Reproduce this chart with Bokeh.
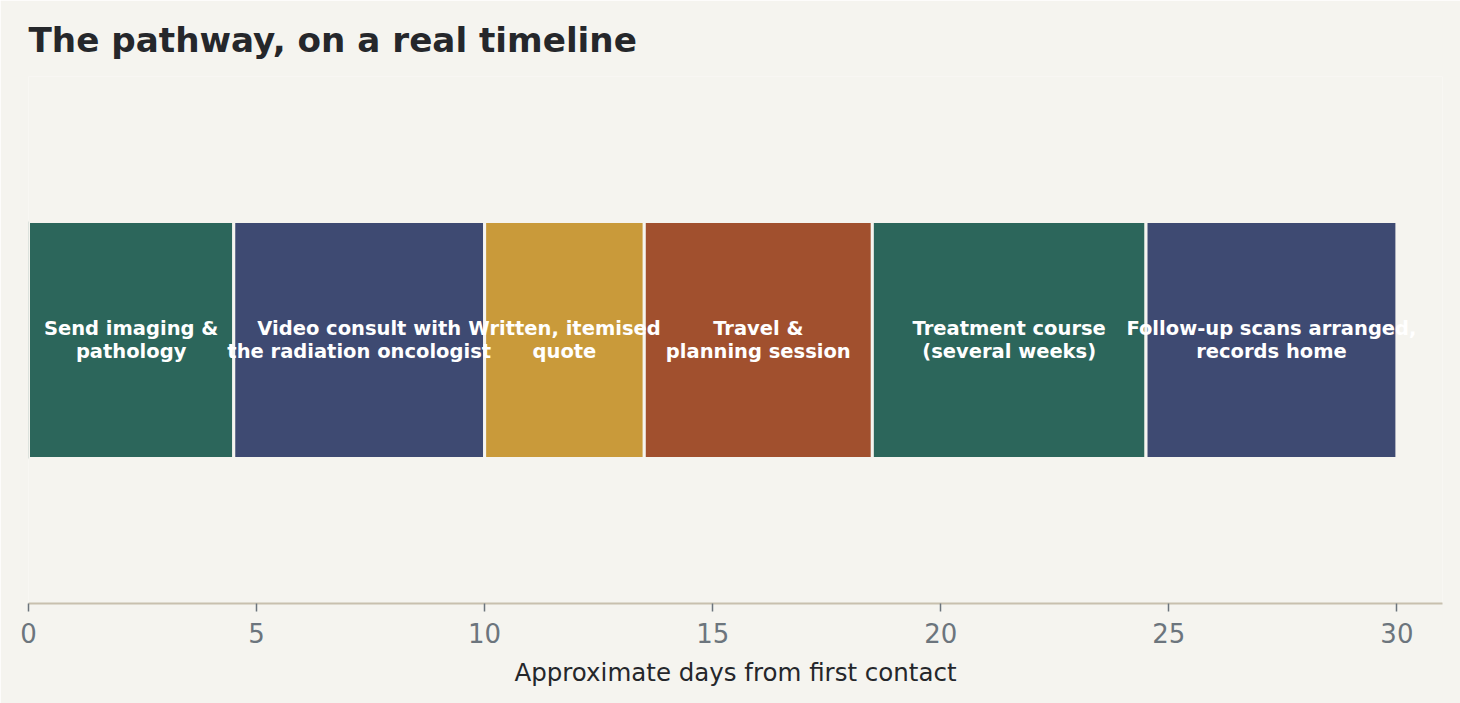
from bokeh.plotting import figure
from bokeh.models import Range1d, FixedTicker, ColumnDataSource
from bokeh.core.properties import value
from bokeh.embed import file_html
from bokeh.resources import INLINE

# ---- data ----
title_text = "The pathway, on a real timeline"
stages = [
    "Send imaging &\npathology",
    "Video consult with\nthe radiation oncologist",
    "Written, itemised\nquote",
    "Travel &\nplanning session",
    "Treatment course\n(several weeks)",
    "Follow-up scans arranged,\nrecords home",
]
start_days = [0, 4.5, 10, 13.5, 18.5, 24.5]
durations = [4.5, 5.5, 3.5, 5.0, 6.0, 5.5]
stage_colors = ["#2c665b", "#3e4a72", "#c99a3a", "#a1502e", "#2c665b", "#3e4a72"]
tick_values = [0, 5, 10, 15, 20, 25, 30]

ends = [s + d for s, d in zip(start_days, durations)]
mids = [s + d / 2 for s, d in zip(start_days, durations)]
src = ColumnDataSource(dict(left=start_days, right=ends, mid=mids, y=[0] * len(stages),
                            label=stages, color=stage_colors))

BG = "#f5f4ef"
FONT = "DejaVu Sans"

p = figure(width=1460, height=703, output_backend="svg", toolbar_location=None,
           x_range=Range1d(0, 31), y_range=Range1d(-0.5, 0.5),
           min_border_left=28, min_border_right=18, min_border_top=76, min_border_bottom=100,
           background_fill_color=BG, border_fill_color=BG, outline_line_color=None,
           title=title_text)

p.title.text_font = FONT
p.title.text_font_size = "34.2px"
p.title.text_font_style = "bold"
p.title.text_color = "#25272b"
p.title.align = "left"
p.title.vertical_align = "top"
p.title.standoff = 29

p.hbar(y="y", left="left", right="right", height=0.45, source=src,
       fill_color="color", line_color=BG, line_width=3)

p.text(x="mid", y="y", text="label", source=src, text_align="center", text_baseline="middle",
       text_color="white", text_font=value(FONT), text_font_style="bold",
       text_font_size="19.5px", text_line_height=1.0)

p.yaxis.visible = False
p.xgrid.visible = False
p.ygrid.visible = False

ax = p.xaxis[0]
ax.ticker = FixedTicker(ticks=tick_values)
ax.axis_label = "Approximate days from first contact"
ax.axis_label_text_font = FONT
ax.axis_label_text_font_size = "24.5px"
ax.axis_label_text_font_style = "normal"
ax.axis_label_text_color = "#25272b"
ax.axis_label_standoff = 12
ax.major_label_text_font = FONT
ax.major_label_text_font_size = "26px"
ax.major_label_text_color = "#6c757d"
ax.major_label_standoff = 11
ax.axis_line_color = "#c8c0ae"
ax.axis_line_width = 2
ax.major_tick_line_color = "#6c757d"
ax.major_tick_line_width = 1.5
ax.major_tick_in = 0
ax.major_tick_out = 8
ax.minor_tick_line_color = None

open("out.html", "w").write(file_html(p, INLINE))
